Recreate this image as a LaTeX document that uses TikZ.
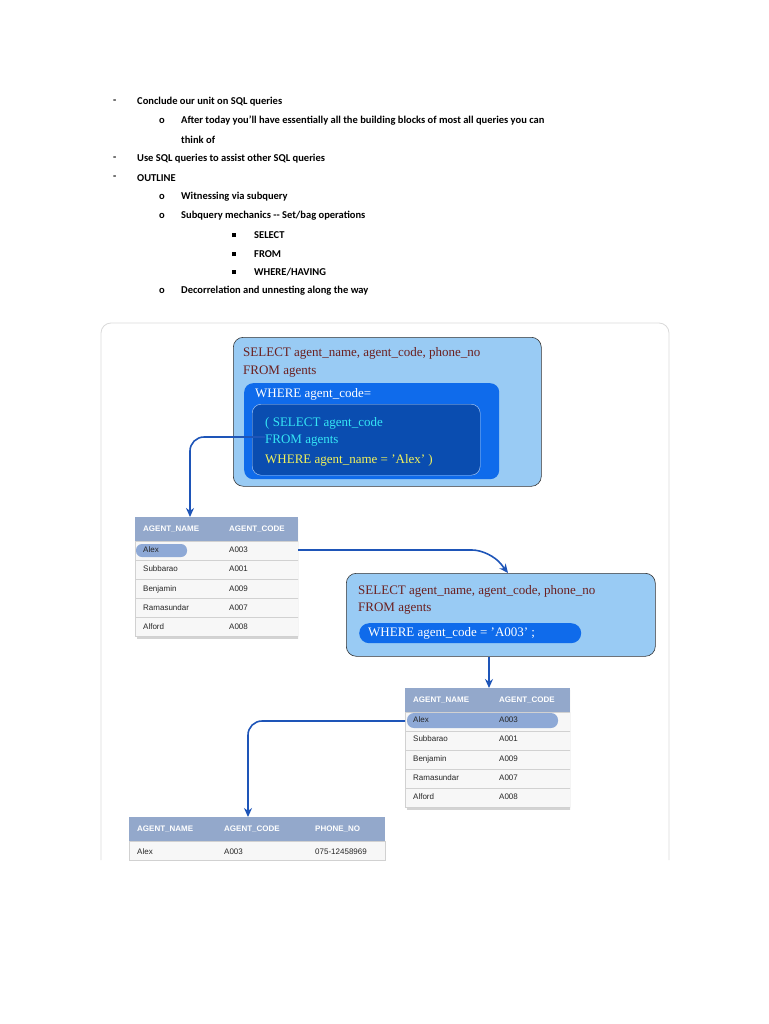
\documentclass[tikz,border=0pt]{standalone}
\usepackage{fontspec}
\setmainfont{Liberation Serif}
\newfontfamily\bul{Carlito}
\newfontfamily\tab{Liberation Sans}
\usetikzlibrary{arrows.meta,shadows}
\definecolor{lb}{HTML}{99CBF4}
\definecolor{mb}{HTML}{0F6BEB}
\definecolor{db}{HTML}{0A4DB0}
\definecolor{arr}{HTML}{1E55B8}
\definecolor{hd}{HTML}{93A8CB}
\definecolor{hl}{HTML}{8EA9D6}
\definecolor{brn}{HTML}{6B1F1F}
\definecolor{cy}{HTML}{35E6F5}
\definecolor{yl}{HTML}{F2F25A}
\begin{document}
\begin{tikzpicture}[x=1pt,y=-1pt,
 bt/.style={anchor=west,inner sep=0,font=\bul\bfseries\fontsize{10.5}{12}\selectfont},
 box/.style={draw=black!80,fill=lb,rounded corners=10pt,line width=0.6pt},
 sq/.style={anchor=west,inner sep=0,font=\fontsize{13}{15}\selectfont},
 con/.style={draw=arr,line width=1.6pt,rounded corners=14pt,-{Stealth[length=9pt,width=8pt]}},
 th/.style={anchor=west,inner sep=0,text=white,font=\tab\bfseries\fontsize{8}{9}\selectfont},
 td/.style={anchor=west,inner sep=0,text=black!85,font=\tab\fontsize{8}{9}\selectfont},
 hdr/.style={fill=hd,draw=none},
 row/.style={fill=black!3,draw=black!18,line width=0.4pt},
 tshadow/.style={drop shadow={shadow xshift=2pt,shadow yshift=-2pt,opacity=0.35}}]
\useasboundingbox (0,0) rectangle (768,1024);
% bullets
\node[bt] (d1) at (113,102) {-}; \node[bt] (l1) at (137,102) {Conclude our unit on SQL queries};
\node[bt] (o1) at (159,121) {o}; \node[bt] (l2) at (181,121) {After today you’ll have essentially all the building blocks of most all queries you can};
\node[bt] (l3) at (181,140) {think of};
\node[bt] (d2) at (113,159) {-}; \node[bt] (l4) at (137,159) {Use SQL queries to assist other SQL queries};
\node[bt] (d3) at (113,178) {-}; \node[bt] (l5) at (137,178) {OUTLINE};
\node[bt] (o2) at (159,197) {o}; \node[bt] (l6) at (181,197) {Witnessing via subquery};
\node[bt] (o3) at (159,216) {o}; \node[bt] (l7) at (181,216) {Subquery mechanics -- Set/bag operations};
\foreach \y/\t [count=\i] in {235/SELECT,254/FROM,272/{WHERE/HAVING}}{
 \node[bt] (s\i) at (232,\y) {\rule{4pt}{4pt}}; \node[bt] (st\i) at (254,\y) {\t};}
\node[bt] (o4) at (159,291) {o}; \node[bt] (l8) at (181,291) {Decorrelation and unnesting along the way};
% frame
\draw[black!15,line width=0.8pt,rounded corners=10pt] (101,860) -- (101,323) -- (669,323) -- (669,860);
% box 1
\node[box,minimum width=308pt,minimum height=149pt,anchor=north west] (b1) at (233,337) {};
\node[sq,text=brn] (b1a) at (243,353) {SELECT agent\_name, agent\_code, phone\_no};
\node[sq,text=brn] (b1b) at (243,372) {FROM agents};
\node[fill=mb,rounded corners=9pt,minimum width=255pt,minimum height=96pt,anchor=north west] (b1w) at (244,383) {};
\node[sq,text=white] (b1c) at (255,394) {WHERE agent\_code=};
\node[fill=db,draw=white!70!mb,rounded corners=9pt,minimum width=228pt,minimum height=71pt,anchor=north west] (b1i) at (252,404) {};
\node[sq,text=cy] (q1) at (265,423) {( SELECT agent\_code};
\node[sq,text=cy] (q2) at (265,441) {FROM agents};
\node[sq,text=yl] (q3) at (265,460) {WHERE agent\_name = 'Alex' )};
\coordinate (c1) at (265,437);
% table 1
\begin{scope}
\clip (135,517) rectangle (298,640);
\fill[hdr,tshadow] (135,517) rectangle (298,637);
\fill[hdr] (135,517) rectangle (298,541);
\foreach \y in {541,560,579,598,617}{\draw[row] (135,\y) rectangle (298,\y+19);}
\fill[hl,rounded corners=6pt] (136,544) rectangle (187,557);
\node[th] (t1h1) at (143,529) {AGENT\_NAME}; \node[th] (t1h2) at (229,529) {AGENT\_CODE};
\end{scope}
\node[inner sep=0,minimum width=163pt,minimum height=120pt,anchor=north west] (t1) at (135,517) {};
\foreach \n/\c/\y in {Alex/A003/550,Subbarao/A001/569,Benjamin/A009/589,Ramasundar/A007/608,Alford/A008/627}{
 \node[td] (t1\n) at (143,\y) {\n}; \node[td] (t1c\n) at (229,\y) {\c};}
% box 2
\node[box,minimum width=309pt,minimum height=83pt,anchor=north west] (b2) at (346,573) {};
\node[sq,text=brn] (b2a) at (358,591) {SELECT agent\_name, agent\_code, phone\_no};
\node[sq,text=brn] (b2b) at (358,609) {FROM agents};
\node[fill=mb,rounded corners=10pt,minimum width=222pt,minimum height=20pt,anchor=north west] (b2w) at (359,623) {};
\node[sq,text=white] (b2c) at (368,633) {WHERE agent\_code = 'A003' ;};
% table 2
\begin{scope}
\clip (405,688) rectangle (570,812);
\fill[hdr,tshadow] (405,688) rectangle (570,808);
\fill[hdr] (405,688) rectangle (570,712);
\foreach \y in {712,731,750,769,788}{\draw[row] (405,\y) rectangle (570,\y+19);}
\fill[hl,rounded corners=7pt] (407,713) rectangle (558,728);
\node[th] (t2h1) at (413,700) {AGENT\_NAME}; \node[th] (t2h2) at (499,700) {AGENT\_CODE};
\end{scope}
\node[inner sep=0,minimum width=165pt,minimum height=120pt,anchor=north west] (t2) at (405,688) {};
\foreach \n/\c/\y in {Alex/A003/720,Subbarao/A001/739,Benjamin/A009/759,Ramasundar/A007/778,Alford/A008/797}{
 \node[td] (t2\n) at (413,\y) {\n}; \node[td] (t2c\n) at (499,\y) {\c};}
% table 3
\fill[hdr] (129,817) rectangle (385,841);
\draw[row] (129,841) rectangle (385,860);
\node[inner sep=0,minimum width=256pt,minimum height=43pt,anchor=north west] (t3) at (129,817) {};
\node[th] (t3h1) at (137,829) {AGENT\_NAME}; \node[th] (t3h2) at (224,829) {AGENT\_CODE}; \node[th] (t3h3) at (315,829) {PHONE\_NO};
\node[td] (t3a) at (137,852) {Alex}; \node[td] (t3b) at (224,852) {A003}; \node[td] (t3c) at (315,852) {075-12458969};
% connectors
\coordinate (c2) at (298,550);
\coordinate (c4) at (405,721);
\draw[con] (c1) -- (190,437) -- (t1.north -| 190,0);
\draw[con,rounded corners=18pt] (c2) -- (490,550) -- (b2.north -| 508,0);
\draw[con] (b2.south -| 489,0) -- (t2.north -| 489,0);
\draw[con] (c4) -- (248,721) -- (t3.north -| 248,0);
\end{tikzpicture}
\end{document}
